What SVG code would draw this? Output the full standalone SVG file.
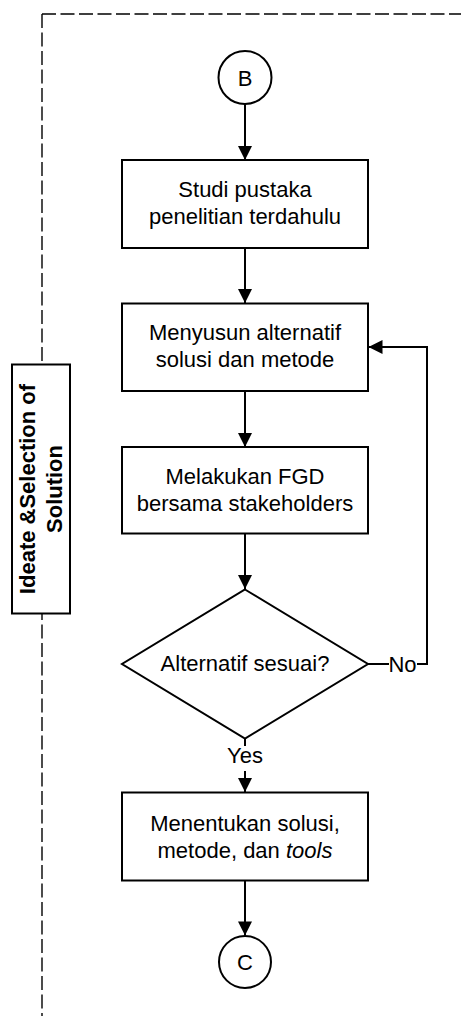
<svg xmlns="http://www.w3.org/2000/svg" width="461" height="1017" viewBox="0 0 461 1017">
  <style>
    .lane { fill: none; stroke: #000; stroke-width: 1.4; stroke-dasharray: 14 4.5; }
    .shape { fill: #fff; stroke: #000; stroke-width: 2; }
    .edge { fill: none; stroke: #000; stroke-width: 2; }
    .t { font-family: "Liberation Sans", Arial, sans-serif; font-size: 22px; fill: #000; text-anchor: middle; }
    .lbl { font-family: "Liberation Sans", Arial, sans-serif; font-size: 22px; font-weight: bold; fill: #000; text-anchor: middle; }
  </style>
  <defs>
    <marker id="arrow" markerUnits="userSpaceOnUse" markerWidth="16" markerHeight="16" viewBox="0 0 16 16" refX="15" refY="8" orient="auto">
      <path d="M1,1 L15,8 L1,15 Z" fill="#000"/>
    </marker>
  </defs>
  <rect width="461" height="1017" fill="#fff"/>

  <!-- swimlane border -->
  <g id="lane">
    <path class="lane" d="M42,14 H461"/>
    <path class="lane" d="M42,14 V1016"/>
  </g>

  <!-- lane title -->
  <g id="lane-title">
    <rect class="shape" x="12" y="364.5" width="58" height="249"/>
    <g transform="translate(41,489) rotate(-90)">
      <text class="lbl" x="0" y="-6.5">Ideate &amp;Selection of</text>
      <text class="lbl" x="0" y="20.8">Solution</text>
    </g>
  </g>

  <!-- connectors -->
  <g id="connectors">
    <path class="edge" d="M245,104 V160" marker-end="url(#arrow)"/>
    <path class="edge" d="M245,248 V303" marker-end="url(#arrow)"/>
    <path class="edge" d="M245,391 V447" marker-end="url(#arrow)"/>
    <path class="edge" d="M245,533 V589" marker-end="url(#arrow)"/>
    <path class="edge" d="M245,738 V746"/>
    <path class="edge" d="M245,771 V792" marker-end="url(#arrow)"/>
    <path class="edge" d="M245,880 V935.5" marker-end="url(#arrow)"/>
    <path class="edge" d="M368,664 H389"/>
    <path class="edge" d="M417,664 H427 V347 H368.5" marker-end="url(#arrow)"/>
    <text class="t" x="402.5" y="671.7">No</text>
    <text class="t" x="245" y="763">Yes</text>
  </g>

  <!-- start connector -->
  <g id="node-b">
    <circle class="shape" cx="245" cy="77.5" r="26.5"/>
    <text class="t" x="245" y="85.5">B</text>
  </g>

  <g id="node-studi">
    <rect class="shape" x="122" y="160" width="246" height="88"/>
    <text class="t" x="245" y="197">Studi pustaka</text>
    <text class="t" x="245" y="224.3">penelitian terdahulu</text>
  </g>

  <g id="node-menyusun">
    <rect class="shape" x="122" y="303.5" width="246" height="87.5"/>
    <text class="t" x="245" y="340">Menyusun alternatif</text>
    <text class="t" x="245" y="367.3">solusi dan metode</text>
  </g>

  <g id="node-fgd">
    <rect class="shape" x="122" y="447" width="246" height="86.5"/>
    <text class="t" x="245" y="483.5">Melakukan FGD</text>
    <text class="t" x="245" y="510.8">bersama stakeholders</text>
  </g>

  <g id="node-decision">
    <polygon class="shape" points="245,589.5 368,664 245,738.5 122,664"/>
    <text class="t" x="245" y="671">Alternatif sesuai?</text>
  </g>

  <g id="node-menentukan">
    <rect class="shape" x="122" y="792.5" width="246" height="88"/>
    <text class="t" x="245" y="830.7">Menentukan solusi,</text>
    <text class="t" x="245" y="858.2">metode, dan <tspan font-style="italic">tools</tspan></text>
  </g>

  <!-- end connector -->
  <g id="node-c">
    <circle class="shape" cx="245" cy="962" r="26"/>
    <text class="t" x="245" y="970">C</text>
  </g>
</svg>
